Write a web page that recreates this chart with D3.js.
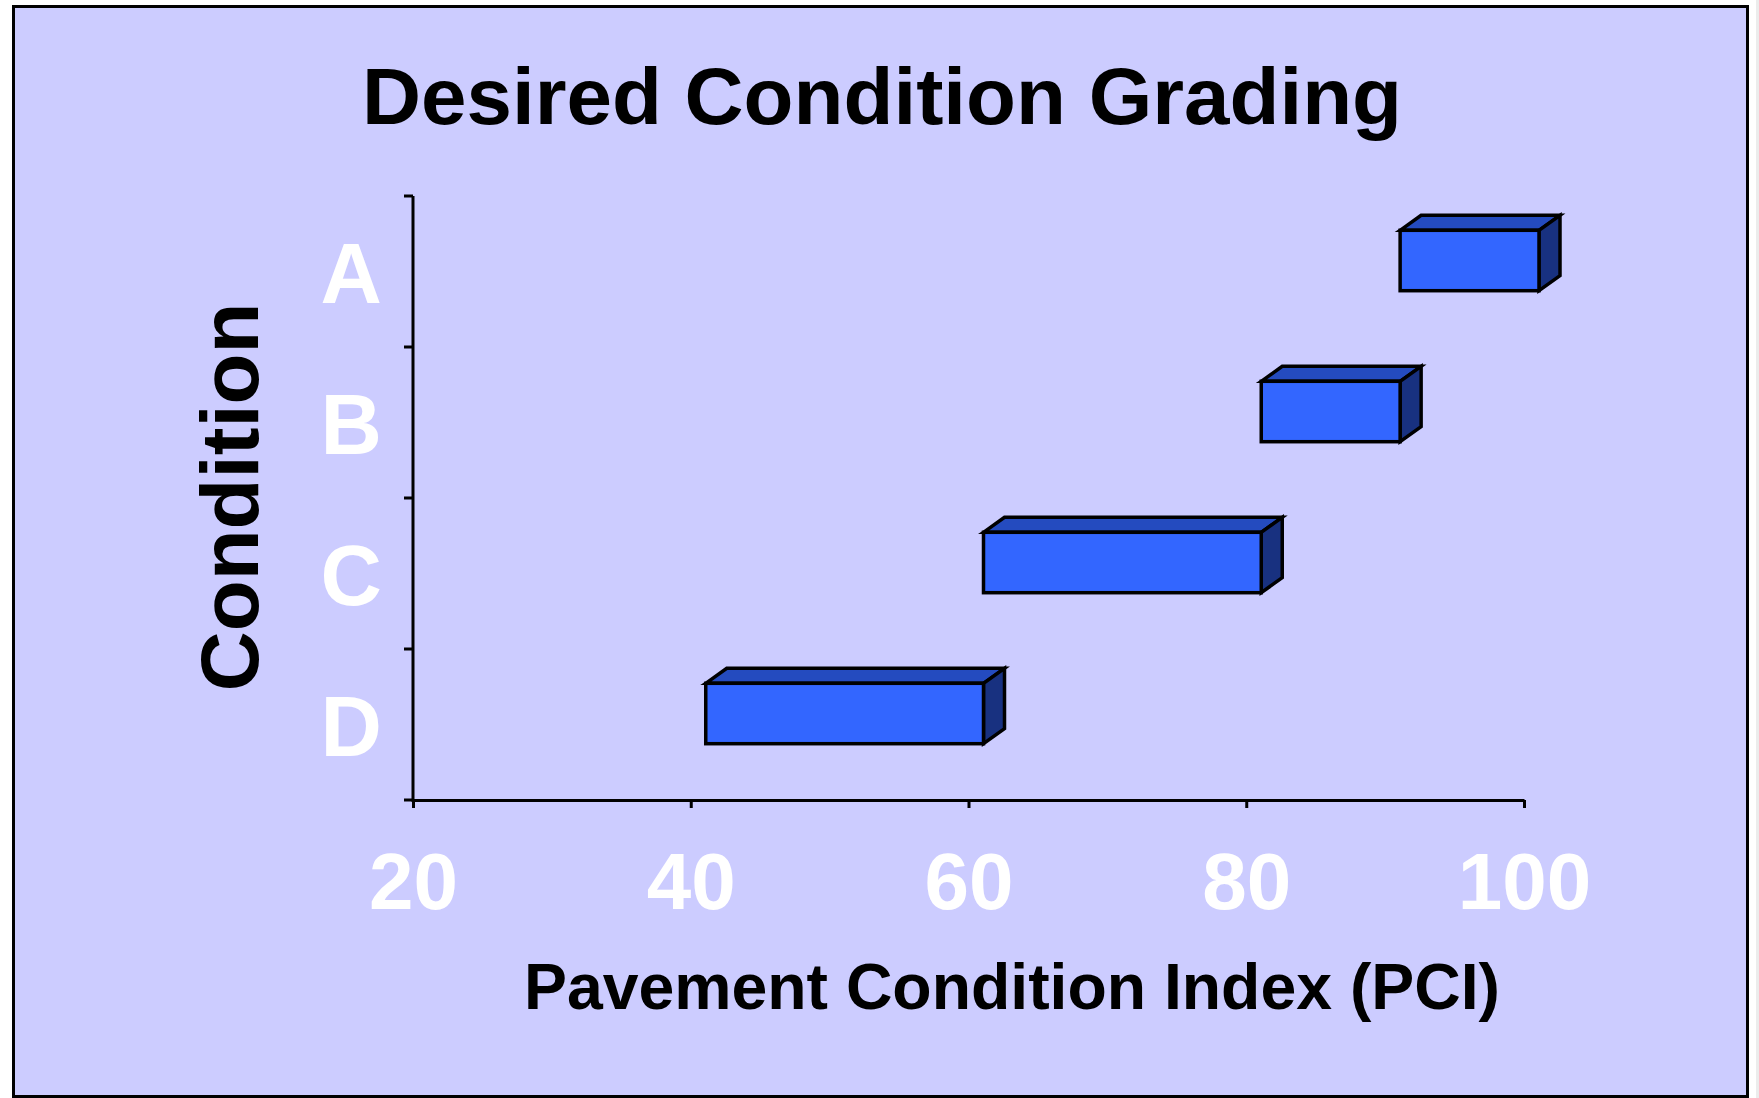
<!DOCTYPE html>
<html>
<head>
<meta charset="utf-8">
<script src="https://cdn.jsdelivr.net/npm/d3@7"></script>
<style>
  body { margin: 0; background: #fff; }
  svg { display: block; }
  text { font-family: "Liberation Sans", Arial, sans-serif; font-weight: bold; }
</style>
</head>
<body>
<svg id="chart"></svg>
<script>
// Data
var grades = ["A", "B", "C", "D"];
var pciLow = [90, 80, 60, 40];
var pciHigh = [100, 90, 80, 60];
var xTicks = [20, 40, 60, 80, 100];

var width = 1759,
	height = 1098;

var svg = d3.select("#chart")
	.attr("width", width)
	.attr("height", height);

// background + frame
svg.append("rect")
	.attr("x", 13.5).attr("y", 6.5)
	.attr("width", 1734).attr("height", 1090)
	.attr("fill", "#ccccff")
	.attr("stroke", "#000")
	.attr("stroke-width", 3);
svg.append("rect")
	.attr("x", 1756).attr("y", 0)
	.attr("width", 3).attr("height", height)
	.attr("fill", "#ececec");

// Scales
var x = d3.scaleLinear().domain([20, 100]).range([413, 1524]);
var y = d3.scaleBand().domain(grades).range([196, 800]);

// Title
svg.append("text")
	.attr("x", 362).attr("y", 124)
	.attr("font-size", 80)
	.attr("textLength", 1040)
	.attr("lengthAdjust", "spacingAndGlyphs")
	.attr("fill", "#000")
	.text("Desired Condition Grading");

// X axis
var xAxis = svg.append("g")
	.attr("transform", "translate(0,800)")
	.call(d3.axisBottom(x).tickValues(xTicks).tickSize(8).tickSizeOuter(0));
xAxis.select(".domain").attr("stroke", "#000").attr("stroke-width", 3);
xAxis.selectAll(".tick line").attr("stroke", "#000").attr("stroke-width", 3);
xAxis.selectAll(".tick text")
	.attr("y", 109).attr("dy", null)
	.attr("font-size", 80)
	.attr("font-family", null)
	.attr("fill", "#fff");

// Y axis (labels centred in bands, ticks between categories)
var yAxis = svg.append("g")
	.attr("transform", "translate(413,0)")
	.call(d3.axisLeft(y).tickSize(0).tickSizeOuter(0));
yAxis.select(".domain").remove();
yAxis.selectAll(".tick text")
	.attr("x", -31).attr("dy", "0.37em")
	.attr("font-size", 85)
	.attr("font-family", null)
	.attr("fill", "#fff");

svg.append("line")
	.attr("x1", 413).attr("x2", 413)
	.attr("y1", y.range()[0]).attr("y2", y.range()[1] + 2)
	.attr("stroke", "#000").attr("stroke-width", 3);
svg.append("g").selectAll("line")
	.data(grades.map(function (g) { return y(g); }).concat([y.range()[1]]))
	.enter().append("line")
	.attr("x1", 404).attr("x2", 413)
	.attr("y1", function (d) { return d; })
	.attr("y2", function (d) { return d; })
	.attr("stroke", "#000").attr("stroke-width", 3);

// Axis titles
svg.append("text")
	.attr("transform", "translate(258,497) rotate(-90)")
	.attr("text-anchor", "middle")
	.attr("font-size", 82)
	.attr("textLength", 389)
	.attr("lengthAdjust", "spacingAndGlyphs")
	.text("Condition");

svg.append("text")
	.attr("x", 524).attr("y", 1009)
	.attr("font-size", 65)
	.attr("textLength", 976)
	.attr("lengthAdjust", "spacingAndGlyphs")
	.text("Pavement Condition Index (PCI)");

// 3D floating bars
var depthX = 21, depthY = 15, shiftX = 15, liftY = 11;
var barH = y.bandwidth() * 0.40;

var bars = grades.map(function (g, i) {
	var x0 = x(pciLow[i]) + shiftX,
		x1 = x(pciHigh[i]) + shiftX,
		y0 = y(g) + y.bandwidth() / 2 - liftY - barH / 2,
		y1 = y0 + barH;
	return { x0: x0, x1: x1, y0: y0, y1: y1 };
});

var box = svg.append("g").selectAll("g")
	.data(bars)
	.enter().append("g")
	.attr("stroke", "#000")
	.attr("stroke-width", 3.5)
	.attr("stroke-linejoin", "miter");

box.append("polygon")
	.attr("fill", "#244bbf")
	.attr("points", function (d) {
		return [[d.x0, d.y0], [d.x0 + depthX, d.y0 - depthY],
			[d.x1 + depthX, d.y0 - depthY], [d.x1, d.y0]].join(" ");
	});
box.append("polygon")
	.attr("fill", "#183180")
	.attr("points", function (d) {
		return [[d.x1, d.y0], [d.x1 + depthX, d.y0 - depthY],
			[d.x1 + depthX, d.y1 - depthY], [d.x1, d.y1]].join(" ");
	});
box.append("rect")
	.attr("fill", "#3366ff")
	.attr("x", function (d) { return d.x0; })
	.attr("y", function (d) { return d.y0; })
	.attr("width", function (d) { return d.x1 - d.x0; })
	.attr("height", function (d) { return d.y1 - d.y0; });
</script>
</body>
</html>
